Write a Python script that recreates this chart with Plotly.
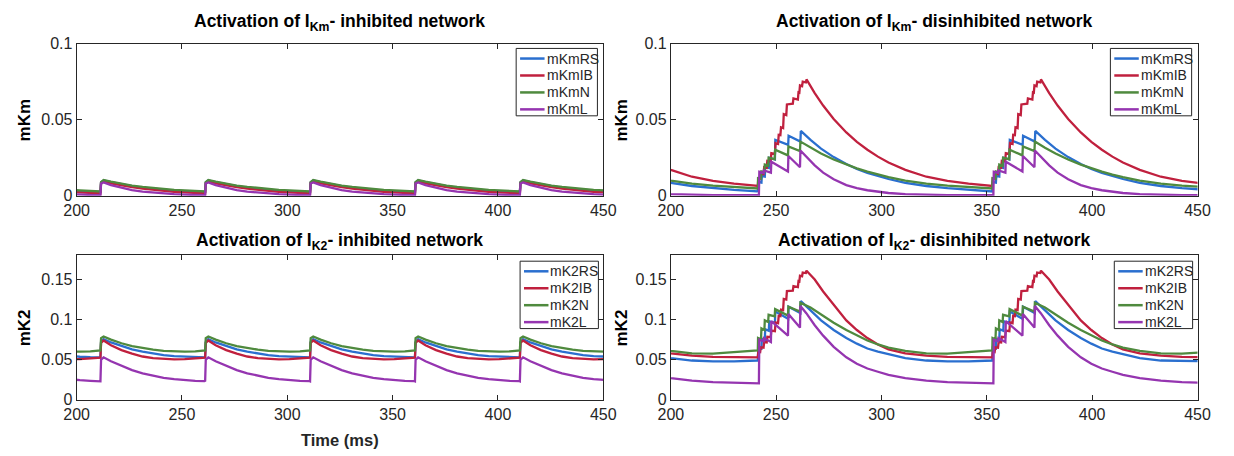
import plotly.graph_objects as go

# ---------------- data ----------------
# Inhibited network: spike onsets (ms) and one inter-spike cycle (offsets from onset)
inh_onsets = [161.5, 211.3, 261.0, 310.8, 360.6, 410.4]
inh_off = [0, 0.3, 1.5, 5, 10, 15, 20, 25, 30, 35, 40, 45, 49.6]

km_inh_rs = [0.0025, 0.0088, 0.0100, 0.0089, 0.0075, 0.0063, 0.0054, 0.0046, 0.0039, 0.0034, 0.0030, 0.0027, 0.0025]
km_inh_ib = [0.0015, 0.0085, 0.0094, 0.0082, 0.0068, 0.0056, 0.0046, 0.0038, 0.0031, 0.0026, 0.0022, 0.0018, 0.0015]
km_inh_n = [0.0028, 0.0090, 0.0103, 0.0092, 0.0078, 0.0067, 0.0058, 0.0050, 0.0044, 0.0039, 0.0035, 0.0031, 0.0028]
km_inh_l = [0.0003, 0.0080, 0.0087, 0.0070, 0.0051, 0.0037, 0.0027, 0.0020, 0.0014, 0.0010, 0.0007, 0.0005, 0.0004]

k2_inh_rs = [0.0530, 0.0720, 0.0755, 0.0715, 0.0670, 0.0630, 0.0600, 0.0575, 0.0558, 0.0545, 0.0537, 0.0532, 0.0530]
k2_inh_ib = [0.0525, 0.0710, 0.0740, 0.0680, 0.0620, 0.0575, 0.0540, 0.0520, 0.0508, 0.0505, 0.0508, 0.0515, 0.0525]
k2_inh_n = [0.0615, 0.0770, 0.0790, 0.0750, 0.0705, 0.0670, 0.0645, 0.0625, 0.0610, 0.0603, 0.0600, 0.0605, 0.0615]
k2_inh_l = [0.0230, 0.0500, 0.0530, 0.0480, 0.0420, 0.0370, 0.0330, 0.0300, 0.0275, 0.0258, 0.0245, 0.0237, 0.0232]

# Disinhibited network: burst onsets (ms) and one burst cycle per cell type
dis_onsets = [130.0, 241.3, 352.6]

rs_off = [0, 0.2, 1.7, 1.9, 3.3, 3.5, 5.2, 5.4, 8.1, 8.3, 14.4, 14.6, 20.2, 20.4,
          25, 30, 36, 42, 47, 52, 57, 62, 70, 80, 90, 100, 111.2]
ib_off = [0, 0.2, 1.1, 1.4, 2.7, 3.0, 4.2, 4.5, 6.1, 6.4, 8.1, 8.4, 9.6, 9.9, 10.7, 11.0,
          12.0, 12.3, 13.5, 13.8, 16.6, 16.9, 19.0, 19.3, 19.7, 20.0, 21.0, 21.3, 22.8, 23.1,
          27, 31, 36, 42, 47, 52, 57, 62, 70, 80, 90, 100, 111.2]
n_off = [0, 0.1, 1.5, 1.7, 3.1, 3.3, 4.9, 5.1, 8.0, 8.2, 14.3, 14.5, 20.0, 20.2,
         25, 30, 36, 42, 47, 52, 57, 62, 70, 80, 90, 100, 111.2]
l_off = [0, 0.5, 0.7, 2.8, 2.9, 6.2, 6.4, 14.3, 14.5, 20.0, 20.2,
         23, 27, 31, 36, 42, 47, 52, 57, 62, 70, 80, 90, 100, 111.2]

km_dis_rs = [0.0028, 0.0090, 0.0086, 0.0130, 0.0126, 0.0190, 0.0183, 0.0250, 0.0238, 0.0367, 0.0335, 0.0394, 0.0356, 0.0426,
             0.0367, 0.0310, 0.0254, 0.0208, 0.0176, 0.0150, 0.0128, 0.0110, 0.0085, 0.0064, 0.0050, 0.0038, 0.0029]
km_dis_ib = [0.0064, 0.0112, 0.0110, 0.0145, 0.0142, 0.0187, 0.0183, 0.0230, 0.0226, 0.0280, 0.0275, 0.0346, 0.0340, 0.0400,
             0.0398, 0.0450, 0.0445, 0.0536, 0.0530, 0.0600, 0.0605, 0.0640, 0.0632, 0.0680, 0.0678, 0.0725, 0.0720, 0.0750,
             0.0745, 0.0765, 0.0675, 0.0593, 0.0505, 0.0416, 0.0354, 0.0302, 0.0257, 0.0218, 0.0170, 0.0125, 0.0098, 0.0080, 0.0065]
km_dis_n = [0.0048, 0.0115, 0.0111, 0.0160, 0.0155, 0.0205, 0.0198, 0.0250, 0.0240, 0.0303, 0.0265, 0.0324, 0.0293, 0.0356,
            0.0315, 0.0278, 0.0238, 0.0205, 0.0180, 0.0158, 0.0139, 0.0122, 0.0100, 0.0080, 0.0066, 0.0056, 0.0048]
km_dis_l = [0.0003, 0.0003, 0.0158, 0.0150, 0.0166, 0.0152, 0.0223, 0.0159, 0.0261, 0.0187, 0.0297,
            0.0255, 0.0200, 0.0152, 0.0108, 0.0070, 0.0050, 0.0036, 0.0026, 0.0018, 0.0011, 0.0006, 0.0004, 0.0003, 0.0003]

k2_dis_rs = [0.049, 0.065, 0.064, 0.076, 0.075, 0.088, 0.086, 0.098, 0.096, 0.110, 0.101, 0.116, 0.108, 0.123,
             0.112, 0.099, 0.087, 0.077, 0.070, 0.064, 0.060, 0.057, 0.052, 0.049, 0.048, 0.048, 0.049]
k2_dis_ib = [0.053, 0.060, 0.0595, 0.0655, 0.065, 0.072, 0.0715, 0.0786, 0.078, 0.0863, 0.0855, 0.0964, 0.0955, 0.1047,
             0.1043, 0.1124, 0.1118, 0.1257, 0.1250, 0.1355, 0.1360, 0.1417, 0.1405, 0.1479, 0.1475, 0.1548, 0.1540, 0.1586,
             0.1580, 0.1610, 0.150, 0.135, 0.118, 0.099, 0.087, 0.077, 0.069, 0.063, 0.058, 0.055, 0.0535, 0.053, 0.053]
k2_dis_n = [0.062, 0.077, 0.0755, 0.089, 0.087, 0.099, 0.097, 0.106, 0.104, 0.113, 0.105, 0.116, 0.110, 0.121,
            0.115, 0.106, 0.096, 0.087, 0.080, 0.074, 0.069, 0.065, 0.061, 0.058, 0.0575, 0.059, 0.0615]
k2_dis_l = [0.0205, 0.0205, 0.075, 0.073, 0.077, 0.072, 0.098, 0.080, 0.107, 0.090, 0.117,
            0.108, 0.093, 0.080, 0.066, 0.053, 0.045, 0.039, 0.035, 0.031, 0.027, 0.024, 0.022, 0.021, 0.0205]

x_ticks = [200, 250, 300, 350, 400, 450]
km_ticks = [0, 0.05, 0.1]
k2_ticks = [0, 0.05, 0.1, 0.15]

# ---------------- style ----------------
FONT = "Liberation Sans, Arial, Helvetica, sans-serif"
AXC = "#262626"
C_RS, C_IB, C_N, C_L = "#2a6fcf", "#c0203e", "#4f8a3e", "#9535b0"

W, H = 1234, 456


def px(x):
    return x / W


def py(y):
    return 1 - y / H


XL = [px(65), px(603)]
XR = [px(672), px(1210)]
YT = [py(195), py(37)]
YB = [py(407), py(257)]


def build(onsets, offsets, values):
    xs, ys = [], []
    for t0 in onsets:
        xs += [t0 + o for o in offsets]
        ys += list(values)
    return xs, ys


fig = go.Figure()

panels = [
    # (axis suffix, onsets, [(name, offsets, values, color)], legend box left/top/width in px)
    ("", inh_onsets, [
        ("mKmRS", inh_off, km_inh_rs, C_RS), ("mKmIB", inh_off, km_inh_ib, C_IB),
        ("mKmN", inh_off, km_inh_n, C_N), ("mKmL", inh_off, km_inh_l, C_L)], (514, 42, 83)),
    ("2", dis_onsets, [
        ("mKmRS", rs_off, km_dis_rs, C_RS), ("mKmIB", ib_off, km_dis_ib, C_IB),
        ("mKmN", n_off, km_dis_n, C_N), ("mKmL", l_off, km_dis_l, C_L)], (1121, 42, 83)),
    ("3", inh_onsets, [
        ("mK2RS", inh_off, k2_inh_rs, C_RS), ("mK2IB", inh_off, k2_inh_ib, C_IB),
        ("mK2N", inh_off, k2_inh_n, C_N), ("mK2L", inh_off, k2_inh_l, C_L)], (518, 263, 80)),
    ("4", dis_onsets, [
        ("mK2RS", rs_off, k2_dis_rs, C_RS), ("mK2IB", ib_off, k2_dis_ib, C_IB),
        ("mK2N", n_off, k2_dis_n, C_N), ("mK2L", l_off, k2_dis_l, C_L)], (1125, 263, 80)),
]

shapes = []
annotations = []

for suf, onsets, series, (lx, ly, lw) in panels:
    # legend frame
    shapes.append(dict(type="rect", xref="paper", yref="paper",
                       x0=px(lx), x1=px(lx + lw), y0=py(ly + 70), y1=py(ly),
                       line=dict(color=AXC, width=1), fillcolor="white", layer="above"))
    for i, (name, off, vals, col) in enumerate(series):
        xs, ys = build(onsets, off, vals)
        fig.add_trace(go.Scatter(
            x=xs, y=ys, mode="lines", name=name,
            line=dict(color=col, width=2.3),
            xaxis="x" + suf, yaxis="y" + suf, showlegend=False))
        ry = ly + 10.5 + 17.6 * i
        shapes.append(dict(type="line", xref="paper", yref="paper",
                           x0=px(lx + 4), x1=px(lx + 29), y0=py(ry), y1=py(ry),
                           line=dict(color=col, width=2.5), layer="above"))
        annotations.append(dict(x=px(lx + 29), y=py(ry), xref="paper", yref="paper",
                                text=name, showarrow=False, xanchor="left", yanchor="middle",
                                font=dict(family=FONT, size=14, color=AXC)))


def xaxis(dom, anchor):
    return dict(domain=dom, anchor=anchor, range=[200, 450], tickvals=x_ticks,
                ticktext=[str(v) for v in x_ticks], showline=True, linecolor=AXC,
                linewidth=1, mirror="ticks", ticks="inside", ticklen=5, tickcolor=AXC,
                showgrid=False, zeroline=False,
                tickfont=dict(family=FONT, size=16, color=AXC))


def yaxis(dom, anchor, rng, tv):
    return dict(domain=dom, anchor=anchor, range=rng, tickvals=tv,
                ticktext=[("%g" % v) for v in tv], showline=True, linecolor=AXC,
                linewidth=1, mirror="ticks", ticks="inside", ticklen=5, tickcolor=AXC,
                showgrid=False, zeroline=False,
                tickfont=dict(family=FONT, size=16, color=AXC))


cx_l = (XL[0] + XL[1]) / 2
cx_r = (XR[0] + XR[1]) / 2
titles = [
    (cx_l, py(1), "<b>Activation of I<sub>Km</sub>- inhibited network</b>"),
    (cx_r, py(1), "<b>Activation of I<sub>Km</sub>- disinhibited network</b>"),
    (cx_l, py(228), "<b>Activation of I<sub>K2</sub>- inhibited network</b>"),
    (cx_r, py(228), "<b>Activation of I<sub>K2</sub>- disinhibited network</b>"),
]
for x, y, t in titles:
    annotations.append(dict(x=x, y=y, xref="paper", yref="paper", text=t, showarrow=False,
                            xanchor="center", yanchor="top",
                            font=dict(family=FONT, size=17.5, color="black")))

ylabels = [
    (px(12), (YT[0] + YT[1]) / 2, "<b>mKm</b>"),
    (px(622), (YT[0] + YT[1]) / 2, "<b>mKm</b>"),
    (px(12), (YB[0] + YB[1]) / 2, "<b>mK2</b>"),
    (px(622), (YB[0] + YB[1]) / 2, "<b>mK2</b>"),
]
for x, y, t in ylabels:
    annotations.append(dict(x=x, y=y, xref="paper", yref="paper", text=t, showarrow=False,
                            textangle=-90, xanchor="center", yanchor="middle",
                            font=dict(family=FONT, size=17, color="black")))

annotations.append(dict(x=cx_l, y=py(449), xref="paper", yref="paper",
                        text="<b>Time (ms)</b>", showarrow=False, xanchor="center",
                        yanchor="middle", font=dict(family=FONT, size=16.5, color=AXC)))

fig.update_layout(
    width=W, height=H, margin=dict(l=0, r=0, t=0, b=0),
    paper_bgcolor="white", plot_bgcolor="white", showlegend=False,
    xaxis=xaxis(XL, "y"), yaxis=yaxis(YT, "x", [0, 0.1], km_ticks),
    xaxis2=xaxis(XR, "y2"), yaxis2=yaxis(YT, "x2", [0, 0.1], km_ticks),
    xaxis3=xaxis(XL, "y3"), yaxis3=yaxis(YB, "x3", [0, 0.18], k2_ticks),
    xaxis4=xaxis(XR, "y4"), yaxis4=yaxis(YB, "x4", [0, 0.18], k2_ticks),
    shapes=shapes,
    annotations=annotations,
)

fig.write_html("out.html")
